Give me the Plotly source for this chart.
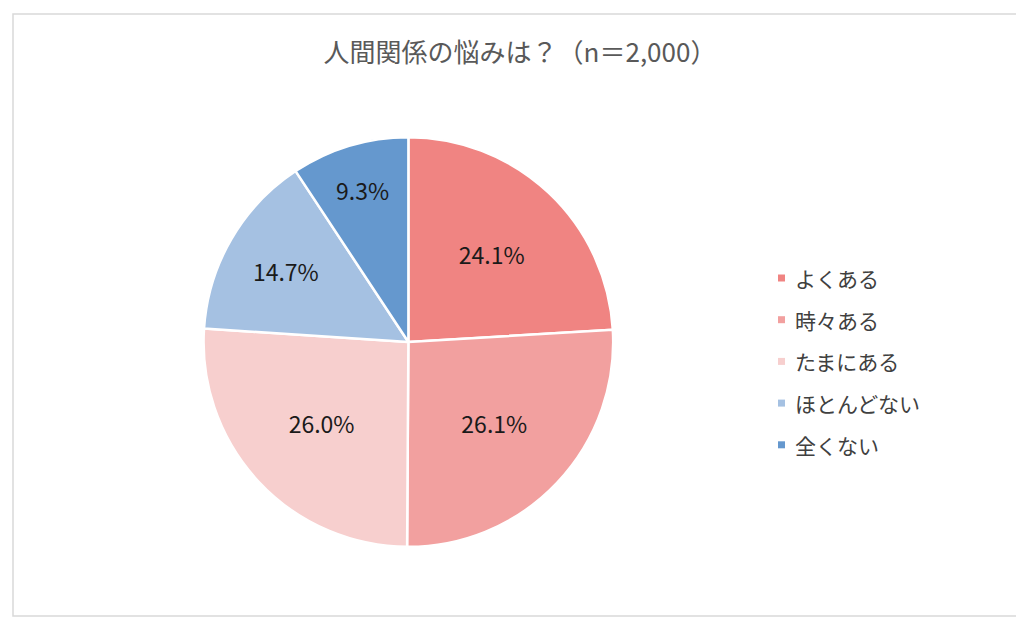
import plotly.graph_objects as go

labels = ["よくある", "時々ある", "たまにある", "ほとんどない", "全くない"]
values = [24.1, 26.1, 26.0, 14.7, 9.3]
colors = ["#F08482", "#F2A09F", "#F7CFCE", "#A5C1E2", "#6598CE"]

fig = go.Figure(go.Pie(
    labels=labels, values=values, sort=False, direction="clockwise", rotation=0,
    marker=dict(colors=colors, line=dict(color="white", width=2.5)),
    texttemplate="%{value:.1f}%", textinfo="text", textposition="inside",
    insidetextorientation="horizontal",
    textfont=dict(size=23, color="#1a1a1a", family="Noto Sans CJK JP"),
    domain=dict(x=[0.191, 0.591], y=[0.128, 0.791]),
    showlegend=False,
))

# legend drawn by hand so the row spacing matches the reference
annotations = []
shapes = [dict(type="rect", xref="paper", yref="paper",
               x0=5 / 1024, x1=1012 / 1024, y0=10 / 618, y1=1 - 6 / 618,
               line=dict(color="#D9D9D9", width=1.5))]
for i, (lab, col) in enumerate(zip(labels, colors)):
    yc = 1 - (270 + i * 41.7) / 618
    shapes.append(dict(type="rect", xref="paper", yref="paper",
                       x0=770 / 1024, x1=777 / 1024,
                       y0=yc - 3.5 / 618, y1=yc + 3.5 / 618,
                       fillcolor=col, line=dict(width=0)))
    annotations.append(dict(text=lab, xref="paper", yref="paper",
                            x=785 / 1024, y=yc, xanchor="left", yanchor="middle",
                            showarrow=False, font=dict(size=21, color="#404040")))

fig.update_layout(
    width=1024, height=618,
    margin=dict(l=0, r=0, t=0, b=0),
    paper_bgcolor="white",
    font=dict(family="Noto Sans CJK JP", color="#404040"),
    title=dict(text="人間関係の悩みは？（n＝2,000）", x=0.5, xanchor="center",
               y=1 - 45 / 618, yanchor="middle",
               font=dict(size=26, color="#595959")),
    shapes=shapes,
    annotations=annotations,
)

fig.write_html("out.html")
